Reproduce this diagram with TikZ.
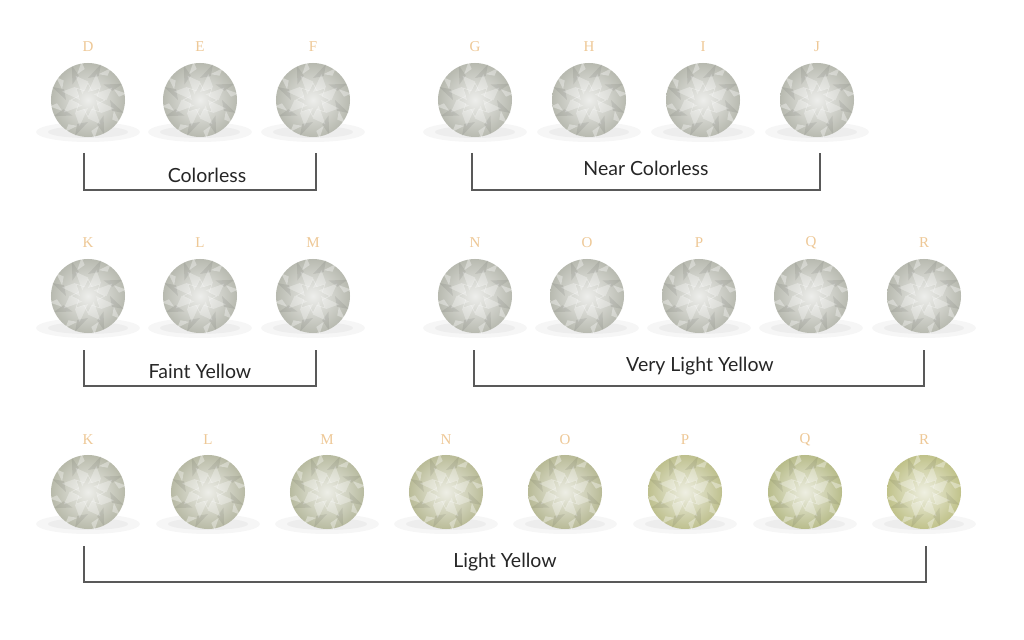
\documentclass[tikz,border=0pt]{standalone}
\usepackage{fontspec}
\setmainfont{Lato}
\newfontfamily\lettfont{Liberation Serif}
\usetikzlibrary{shadings,calc}
\definecolor{tan}{RGB}{238,200,150}
\tikzset{
 lett/.style={font=\lettfont\fontsize{15}{15}\selectfont, text=tan},
 lab/.style={font=\fontsize{19.5}{21}\selectfont, text=black!85, inner sep=2pt},
 brk/.style={draw=black!65, line width=1.3pt},
 gemnode/.style={circle, minimum size=74pt, inner sep=0pt},
}
\newcommand\gem[4]{% name, x, y, color
 \fill[black, opacity=0.035] (#2,#3+32) ellipse (52 and 10);
 \fill[black, opacity=0.035] (#2,#3+32) ellipse (40 and 6);
 \node[gemnode, inner color=#4!25!white, outer color=#4] (#1) at (#2,#3) {};
 \foreach \a in {0,45,...,315}{
   \fill[white, opacity=0.3] (#2,#3) ++(\a:8) -- ++(\a+70:14) -- ++(\a-20:14) -- cycle;
   \fill[white, opacity=0.35] (#2,#3) ++(\a+22.5:28) -- ++(\a+100:9) -- ++(\a+22.5:8) -- cycle;
   \fill[black, opacity=0.07] (#2,#3) ++(\a:22) -- ++(\a+80:11) -- ++(\a+10:12) -- cycle;
 }
 \draw[white, opacity=0.4, line width=0.5pt] ($(#2,#3)+(0:17)$) \foreach \a in {22.5,45,...,360}{ -- ($(#2,#3)+(\a:{mod(\a,45)==0 ? 17 : 10})$)};
}
\begin{document}
\begin{tikzpicture}[x=0.03514cm,y=-0.03514cm]
\useasboundingbox (0,0) rectangle (1024,640);
\fill[white] (0,0) rectangle (1024,640);
\definecolor{g0}{RGB}{184,186,176}
% row 1
\foreach \n/\l/\x in {d/D/88,e/E/200,f/F/313,g/G/475,h/H/589,i/I/703,j/J/817}{
 \gem{\n}{\x}{100}{g0}
 \node[lett] (t\n) at (\x,47) {\l};
}
\coordinate (c1a) at (84,153); \coordinate (c1b) at (316,153);
\draw[brk] (c1a) -- ++(0,37) -| (c1b);
\node[lab] (lc) at (207,175) {Colorless};
\coordinate (c2a) at (472,153); \coordinate (c2b) at (820,153);
\draw[brk] (c2a) -- ++(0,37) -| (c2b);
\node[lab] (lnc) at (646,168) {Near Colorless};
% row 2
\foreach \n/\l/\x in {k/K/88,l/L/200,m/M/313,n/N/475,o/O/587,p/P/699,q/Q/811,r/R/924}{
 \gem{\n2}{\x}{296}{g0}
 \node[lett] (t\n2) at (\x,243) {\l};
}
\coordinate (c3a) at (84,350); \coordinate (c3b) at (316,350);
\draw[brk] (c3a) -- ++(0,36) -| (c3b);
\node[lab] (lfy) at (200,371) {Faint Yellow};
\coordinate (c4a) at (474,350); \coordinate (c4b) at (924,350);
\draw[brk] (c4a) -- ++(0,36) -| (c4b);
\node[lab] (lvly) at (700,366) {Very Light Yellow};
% row 3
\definecolor{y1}{RGB}{184,186,170}
\definecolor{y2}{RGB}{184,186,165}
\definecolor{y3}{RGB}{184,187,160}
\definecolor{y4}{RGB}{186,188,152}
\definecolor{y5}{RGB}{184,186,150}
\definecolor{y6}{RGB}{190,192,142}
\definecolor{y7}{RGB}{184,188,138}
\definecolor{y8}{RGB}{192,194,138}
\foreach \n/\l/\x/\c in {k/K/88/y1,l/L/208/y2,m/M/327/y3,n/N/446/y4,o/O/565/y5,p/P/685/y6,q/Q/805/y7,r/R/924/y8}{
 \gem{\n3}{\x}{492}{\c}
 \node[lett] (t\n3) at (\x,440) {\l};
}
\coordinate (c5a) at (84,546); \coordinate (c5b) at (926,546);
\draw[brk] (c5a) -- ++(0,36) -| (c5b);
\node[lab] (lly) at (505,562) {Light Yellow};
\end{tikzpicture}
\end{document}
